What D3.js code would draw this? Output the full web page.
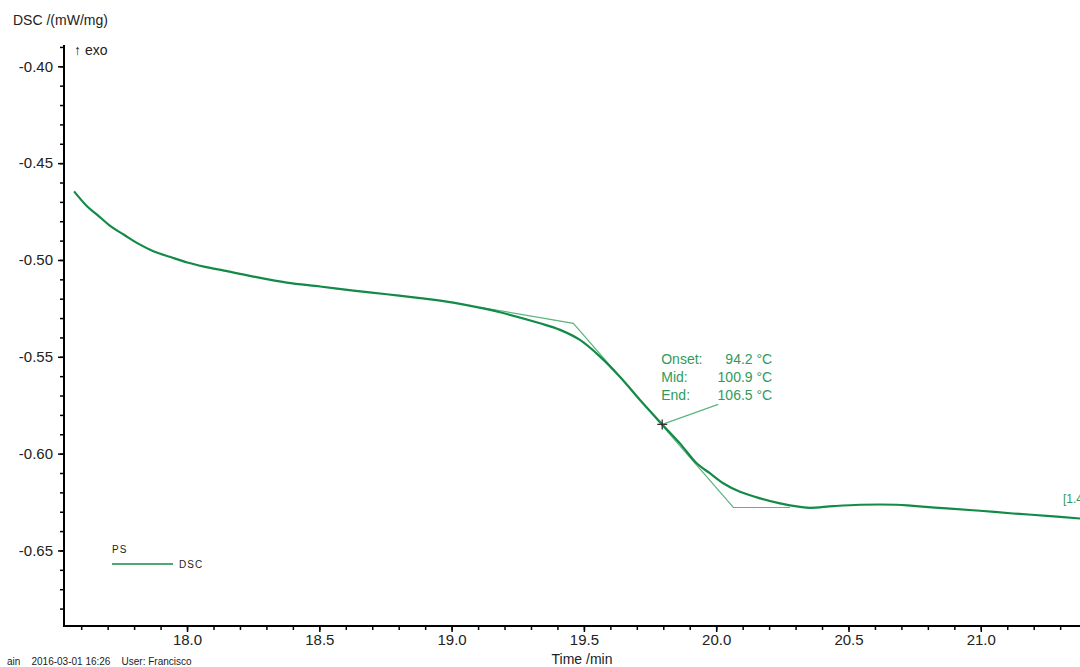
<!DOCTYPE html>
<html>
<head>
<meta charset="utf-8">
<script src="https://cdn.jsdelivr.net/npm/d3@7"></script>
<style>
  html, body { margin: 0; padding: 0; background: #fff; }
  svg { display: block; font-family: "Liberation Sans", Arial, sans-serif; }
</style>
</head>
<body>
<svg id="chart" width="1080" height="667"></svg>
<script>
// DSC trace of PS around the glass transition (time in min, DSC in mW/mg)
const timeMin = [17.573, 17.623, 17.661, 17.712, 17.762, 17.812, 17.875, 17.938, 18.001, 18.064,
                 18.140, 18.251, 18.377, 18.503, 18.629, 18.755, 18.881, 19.006, 19.133, 19.183,
                 19.334, 19.410, 19.485, 19.561, 19.636, 19.712, 19.796, 19.863, 19.926, 19.977,
                 20.028, 20.090, 20.166, 20.241, 20.317, 20.355, 20.443, 20.544, 20.682, 20.744,
                 20.871, 20.997, 21.122, 21.249, 21.375];
const dscValue = [-0.4646, -0.4724, -0.4767, -0.4827, -0.4870, -0.4913, -0.4956, -0.4985, -0.5013, -0.5034,
                  -0.5055, -0.5086, -0.5117, -0.5137, -0.5158, -0.5177, -0.5197, -0.5220, -0.5254, -0.5270,
                  -0.5327, -0.5361, -0.5413, -0.5499, -0.5603, -0.5723, -0.5849, -0.5947, -0.6050, -0.6102,
                  -0.6154, -0.6197, -0.6231, -0.6257, -0.6275, -0.6280, -0.6271, -0.6264, -0.6264, -0.6270,
                  -0.6283, -0.6295, -0.6309, -0.6321, -0.6335];

// Tangent construction for the glass transition evaluation
const tangentTime = [19.107, 19.460, 20.065, 20.279];
const tangentValue = [-0.5244, -0.5327, -0.6278, -0.6278];

// Mid point of the step
const midTime = 19.796;
const midValue = -0.5849;

// Evaluation results
const resultLabels = ["Onset:", "Mid:", "End:"];
const resultValues = ["94.2 °C", "100.9 °C", "106.5 °C"];

// Axis ticks
const xMajorTicks = [18.0, 18.5, 19.0, 19.5, 20.0, 20.5, 21.0];
const xMinorTicks = d3.range(17.6, 21.4, 0.1).map(v => +v.toFixed(1));
const yMajorTicks = [-0.40, -0.45, -0.50, -0.55, -0.60, -0.65];
const yMinorTicks = d3.range(-0.68, -0.389, 0.01).map(v => +v.toFixed(2));

const svg = d3.select("#chart");
const plotLeft = 64, plotTop = 45, plotBottom = 626, plotRight = 1080;

const x = d3.scaleLinear().domain([17.535, 21.375]).range([plotLeft, plotRight]);
const y = d3.scaleLinear().domain([-0.689, -0.389]).range([plotBottom, plotTop]);

const curveColor = "#138a47";
const lightGreen = "#5db57e";
const textGreen = "#2f9a5c";
const tickText = "#222";

// Y axis
const yMinor = svg.append("g").attr("transform", `translate(${plotLeft},0)`)
  .call(d3.axisLeft(y).tickValues(yMinorTicks).tickSize(4).tickFormat(""));
const yMajor = svg.append("g").attr("transform", `translate(${plotLeft},0)`)
  .call(d3.axisLeft(y).tickValues(yMajorTicks).tickSize(6).tickPadding(5).tickFormat(d => d.toFixed(2)));
[yMinor, yMajor].forEach(g => {
  g.select(".domain").remove();
  g.selectAll(".tick line").attr("stroke", "#000").attr("stroke-width", 1.5);
});
yMajor.selectAll(".tick text").attr("font-size", 15).attr("fill", tickText)
  .attr("font-family", "Liberation Sans, Arial, sans-serif");
svg.append("line").attr("x1", plotLeft).attr("x2", plotLeft).attr("y1", plotTop).attr("y2", plotBottom + 1)
  .attr("stroke", "#000").attr("stroke-width", 2);

// X axis
const xMinor = svg.append("g").attr("transform", `translate(0,${plotBottom})`)
  .call(d3.axisBottom(x).tickValues(xMinorTicks).tickSize(4).tickFormat(""));
const xMajor = svg.append("g").attr("transform", `translate(0,${plotBottom})`)
  .call(d3.axisBottom(x).tickValues(xMajorTicks).tickSize(6).tickPadding(2).tickFormat(d => d.toFixed(1)));
[xMinor, xMajor].forEach(g => {
  g.select(".domain").remove();
  g.selectAll(".tick line").attr("stroke", "#000").attr("stroke-width", 1.5);
});
xMajor.selectAll(".tick text").attr("font-size", 15).attr("fill", tickText)
  .attr("font-family", "Liberation Sans, Arial, sans-serif");
svg.append("line").attr("x1", plotLeft - 1).attr("x2", plotRight).attr("y1", plotBottom).attr("y2", plotBottom)
  .attr("stroke", "#000").attr("stroke-width", 2);

// Axis titles
svg.append("text").attr("x", 13).attr("y", 25).attr("font-size", 14).attr("fill", tickText)
  .text("DSC /(mW/mg)");
svg.append("text").attr("x", 74).attr("y", 55).attr("font-size", 14).attr("fill", tickText)
  .text("↑ exo");
svg.append("text").attr("x", 582).attr("y", 664).attr("font-size", 14).attr("fill", tickText)
  .attr("text-anchor", "middle").text("Time /min");
svg.append("text").attr("x", 7).attr("y", 665).attr("font-size", 10).attr("fill", tickText)
  .style("white-space", "pre")
  .text("ain    2016-03-01 16:26    User: Francisco");

// Tangents
const line = d3.line().x(d => x(d[0])).y(d => y(d[1]));
svg.append("path")
  .datum(tangentTime.map((t, i) => [t, tangentValue[i]]))
  .attr("d", line).attr("fill", "none").attr("stroke", lightGreen).attr("stroke-width", 1.2);

// DSC curve
svg.append("path")
  .datum(timeMin.map((t, i) => [t, dscValue[i]]))
  .attr("d", d3.line().curve(d3.curveCatmullRom.alpha(0.5)).x(d => x(d[0])).y(d => y(d[1])))
  .attr("fill", "none").attr("stroke", curveColor).attr("stroke-width", 2.2);

// Mid-point marker and leader line
const mx = x(midTime), my = y(midValue);
svg.append("line").attr("x1", mx).attr("y1", my).attr("x2", mx + 56).attr("y2", my - 20)
  .attr("stroke", lightGreen).attr("stroke-width", 1.2);
svg.append("path").attr("d", `M${mx - 5},${my}H${mx + 5}M${mx},${my - 5}V${my + 5}`)
  .attr("stroke", "#333").attr("stroke-width", 1.3);

// Result block
const block = svg.append("g").attr("fill", textGreen).attr("font-size", 14);
resultLabels.forEach((lab, i) => {
  block.append("text").attr("x", mx - 1).attr("y", my - 60 + i * 18).text(lab);
  block.append("text").attr("x", mx + 110).attr("y", my - 60 + i * 18)
    .attr("text-anchor", "end").text(resultValues[i]);
});

// Label at the right edge
svg.append("text").attr("x", 1063).attr("y", 503).attr("font-size", 12).attr("fill", textGreen)
  .text("[1.4]");

// Legend
svg.append("text").attr("x", 112).attr("y", 553).attr("font-size", 10).attr("fill", tickText)
  .attr("letter-spacing", 1).text("PS");
svg.append("line").attr("x1", 112).attr("x2", 173).attr("y1", 564).attr("y2", 564)
  .attr("stroke", curveColor).attr("stroke-width", 1.3);
svg.append("text").attr("x", 179).attr("y", 568).attr("font-size", 10).attr("fill", tickText)
  .attr("letter-spacing", 1).text("DSC");
</script>
</body>
</html>
